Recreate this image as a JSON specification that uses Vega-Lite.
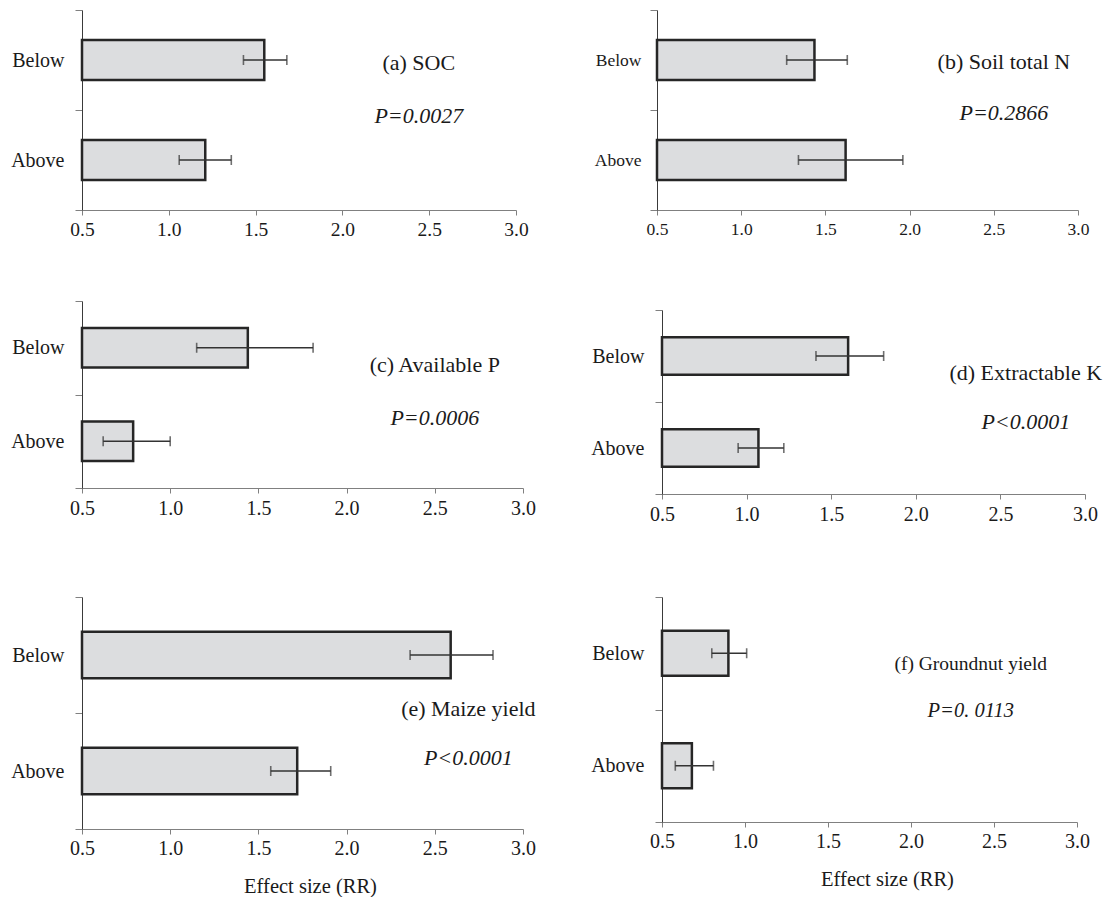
{
  "$schema": "https://vega.github.io/schema/vega-lite/v6.json",
  "padding": {"left": 5, "top": 0, "right": 0, "bottom": 0},
  "background": "white",
  "datasets": {
    "bars": [
      {"panel": "a", "group": "Below", "rr": 1.55, "lo": 1.43, "hi": 1.68},
      {"panel": "a", "group": "Above", "rr": 1.21, "lo": 1.06, "hi": 1.36},
      {"panel": "b", "group": "Below", "rr": 1.435, "lo": 1.27, "hi": 1.63},
      {"panel": "b", "group": "Above", "rr": 1.62, "lo": 1.34, "hi": 1.96},
      {"panel": "c", "group": "Below", "rr": 1.44, "lo": 1.15, "hi": 1.81},
      {"panel": "c", "group": "Above", "rr": 0.79, "lo": 0.62, "hi": 1.0},
      {"panel": "d", "group": "Below", "rr": 1.6, "lo": 1.41, "hi": 1.81},
      {"panel": "d", "group": "Above", "rr": 1.07, "lo": 0.95, "hi": 1.22},
      {"panel": "e", "group": "Below", "rr": 2.59, "lo": 2.36, "hi": 2.83},
      {"panel": "e", "group": "Above", "rr": 1.72, "lo": 1.57, "hi": 1.91},
      {"panel": "f", "group": "Below", "rr": 0.9, "lo": 0.8, "hi": 1.01},
      {"panel": "f", "group": "Above", "rr": 0.68, "lo": 0.58, "hi": 0.81}
    ],
    "notes": [
      {"panel": "a", "label": "(a) SOC", "p": "P=0.0027"},
      {"panel": "b", "label": "(b) Soil total N", "p": "P=0.2866"},
      {"panel": "c", "label": "(c) Available P", "p": "P=0.0006"},
      {"panel": "d", "label": "(d) Extractable K", "p": "P<0.0001"},
      {"panel": "e", "label": "(e) Maize yield", "p": "P<0.0001"},
      {"panel": "f", "label": "(f) Groundnut yield", "p": "P=0. 0113"}
    ]
  },
  "columns": 2,
  "spacing": {"row": 91, "column": 139},
  "bounds": "flush",
  "concat": [
    {
      "width": 434, "height": 200,
      "data": {"name": "bars"},
      "transform": [{"filter": "datum.panel == 'a'"}],
      "encoding": {
        "y": {"field": "group", "type": "nominal", "title": null,
          "scale": {"domain": ["Below", "Above"], "paddingInner": 0, "paddingOuter": 0},
          "axis": {"tickBand": "extent", "tickSize": 7, "labelPadding": 11, "labelFontSize": 20, "labelFont": "Liberation Serif", "minExtent": 77, "maxExtent": 77}}
      },
      "layer": [
        {"mark": {"type": "bar", "height": {"band": 0.4}, "fill": "#dcdddf", "stroke": "#262626", "strokeWidth": 2.5},
          "encoding": {"x": {"field": "rr", "type": "quantitative", "title": null, "scale": {"domain": [0.5, 3], "zero": false, "nice": false},
            "axis": {"values": [0.5, 1, 1.5, 2, 2.5, 3], "format": ".1f", "labelFontSize": 19.5, "labelFont": "Liberation Serif", "labelPadding": 5}}, "x2": {"datum": 0.5}}},
        {"mark": {"type": "rule", "color": "#333", "strokeWidth": 1.6}, "encoding": {"x": {"field": "lo", "type": "quantitative", "title": null}, "x2": {"field": "hi"}}},
        {"mark": {"type": "tick", "color": "#333", "size": 10, "thickness": 1.6}, "encoding": {"x": {"field": "lo", "type": "quantitative", "title": null}}},
        {"mark": {"type": "tick", "color": "#333", "size": 10, "thickness": 1.6}, "encoding": {"x": {"field": "hi", "type": "quantitative", "title": null}}},
        {"data": {"name": "notes"}, "transform": [{"filter": "datum.panel == 'a'"}],
          "mark": {"type": "text", "font": "Liberation Serif", "fontSize": 22, "dy": 3, "color": "#1a1a1a"},
          "encoding": {"x": {"datum": 2.44, "type": "quantitative", "title": null}, "y": {"datum": "Below", "type": "nominal", "title": null}, "text": {"field": "label"}}},
        {"data": {"name": "notes"}, "transform": [{"filter": "datum.panel == 'a'"}],
          "mark": {"type": "text", "font": "Liberation Serif", "fontSize": 22, "fontStyle": "italic", "dy": 56, "color": "#1a1a1a"},
          "encoding": {"x": {"datum": 2.44, "type": "quantitative", "title": null}, "y": {"datum": "Below", "type": "nominal", "title": null}, "text": {"field": "p"}}}
      ]
    },
    {
      "width": 416, "height": 200,
      "data": {"name": "bars"},
      "transform": [{"filter": "datum.panel == 'b'"}],
      "encoding": {
        "y": {"field": "group", "type": "nominal", "title": null,
          "scale": {"domain": ["Below", "Above"], "paddingInner": 0, "paddingOuter": 0},
          "axis": {"tickBand": "extent", "tickSize": 7, "labelPadding": 9, "labelFontSize": 17.5, "labelFont": "Liberation Serif", "offset": 5}}
      },
      "layer": [
        {"mark": {"type": "bar", "height": {"band": 0.4}, "fill": "#dcdddf", "stroke": "#262626", "strokeWidth": 2.5},
          "encoding": {"x": {"field": "rr", "type": "quantitative", "title": null, "scale": {"domain": [0.5, 3], "zero": false, "nice": false, "range": [-5, 416]},
            "axis": {"values": [0.5, 1, 1.5, 2, 2.5, 3], "format": ".1f", "labelFontSize": 17.5, "labelFont": "Liberation Serif", "labelPadding": 5}}, "x2": {"datum": 0.5}}},
        {"mark": {"type": "rule", "color": "#333", "strokeWidth": 1.6}, "encoding": {"x": {"field": "lo", "type": "quantitative", "title": null}, "x2": {"field": "hi"}}},
        {"mark": {"type": "tick", "color": "#333", "size": 10, "thickness": 1.6}, "encoding": {"x": {"field": "lo", "type": "quantitative", "title": null}}},
        {"mark": {"type": "tick", "color": "#333", "size": 10, "thickness": 1.6}, "encoding": {"x": {"field": "hi", "type": "quantitative", "title": null}}},
        {"data": {"name": "notes"}, "transform": [{"filter": "datum.panel == 'b'"}],
          "mark": {"type": "text", "font": "Liberation Serif", "fontSize": 22, "dy": 2, "color": "#1a1a1a"},
          "encoding": {"x": {"datum": 2.56, "type": "quantitative", "title": null}, "y": {"datum": "Below", "type": "nominal", "title": null}, "text": {"field": "label"}}},
        {"data": {"name": "notes"}, "transform": [{"filter": "datum.panel == 'b'"}],
          "mark": {"type": "text", "font": "Liberation Serif", "fontSize": 22, "fontStyle": "italic", "dy": 53, "color": "#1a1a1a"},
          "encoding": {"x": {"datum": 2.56, "type": "quantitative", "title": null}, "y": {"datum": "Below", "type": "nominal", "title": null}, "text": {"field": "p"}}}
      ]
    },
    {
      "width": 441, "height": 187,
      "data": {"name": "bars"},
      "transform": [{"filter": "datum.panel == 'c'"}],
      "encoding": {
        "y": {"field": "group", "type": "nominal", "title": null,
          "scale": {"domain": ["Below", "Above"], "paddingInner": 0, "paddingOuter": 0},
          "axis": {"tickBand": "extent", "tickSize": 7, "labelPadding": 11, "labelFontSize": 20, "labelFont": "Liberation Serif", "minExtent": 77, "maxExtent": 77}}
      },
      "layer": [
        {"mark": {"type": "bar", "height": {"band": 0.42}, "fill": "#dcdddf", "stroke": "#262626", "strokeWidth": 2.5},
          "encoding": {"x": {"field": "rr", "type": "quantitative", "title": null, "scale": {"domain": [0.5, 3], "zero": false, "nice": false},
            "axis": {"values": [0.5, 1, 1.5, 2, 2.5, 3], "format": ".1f", "labelFontSize": 20, "labelFont": "Liberation Serif", "labelPadding": 5}}, "x2": {"datum": 0.5}}},
        {"mark": {"type": "rule", "color": "#333", "strokeWidth": 1.6}, "encoding": {"x": {"field": "lo", "type": "quantitative", "title": null}, "x2": {"field": "hi"}}},
        {"mark": {"type": "tick", "color": "#333", "size": 10, "thickness": 1.6}, "encoding": {"x": {"field": "lo", "type": "quantitative", "title": null}}},
        {"mark": {"type": "tick", "color": "#333", "size": 10, "thickness": 1.6}, "encoding": {"x": {"field": "hi", "type": "quantitative", "title": null}}},
        {"data": {"name": "notes"}, "transform": [{"filter": "datum.panel == 'c'"}],
          "mark": {"type": "text", "font": "Liberation Serif", "fontSize": 22, "dy": 17, "color": "#1a1a1a"},
          "encoding": {"x": {"datum": 2.5, "type": "quantitative", "title": null}, "y": {"datum": "Below", "type": "nominal", "title": null}, "text": {"field": "label"}}},
        {"data": {"name": "notes"}, "transform": [{"filter": "datum.panel == 'c'"}],
          "mark": {"type": "text", "font": "Liberation Serif", "fontSize": 22, "fontStyle": "italic", "dy": 70, "color": "#1a1a1a"},
          "encoding": {"x": {"datum": 2.5, "type": "quantitative", "title": null}, "y": {"datum": "Below", "type": "nominal", "title": null}, "text": {"field": "p"}}}
      ]
    },
    {
      "width": 423, "height": 193,
      "data": {"name": "bars"},
      "transform": [{"filter": "datum.panel == 'd'"}],
      "encoding": {
        "y": {"field": "group", "type": "nominal", "title": null,
          "scale": {"domain": ["Below", "Above"], "paddingInner": 0, "paddingOuter": 0, "range": [9, 193]},
          "axis": {"tickBand": "extent", "tickSize": 7, "labelPadding": 11, "labelFontSize": 20, "labelFont": "Liberation Serif"}}
      },
      "layer": [
        {"mark": {"type": "bar", "height": {"band": 0.41}, "fill": "#dcdddf", "stroke": "#262626", "strokeWidth": 2.5},
          "encoding": {"x": {"field": "rr", "type": "quantitative", "title": null, "scale": {"domain": [0.5, 3], "zero": false, "nice": false},
            "axis": {"values": [0.5, 1, 1.5, 2, 2.5, 3], "format": ".1f", "labelFontSize": 20, "labelFont": "Liberation Serif", "labelPadding": 5}}, "x2": {"datum": 0.5}}},
        {"mark": {"type": "rule", "color": "#333", "strokeWidth": 1.6}, "encoding": {"x": {"field": "lo", "type": "quantitative", "title": null}, "x2": {"field": "hi"}}},
        {"mark": {"type": "tick", "color": "#333", "size": 10, "thickness": 1.6}, "encoding": {"x": {"field": "lo", "type": "quantitative", "title": null}}},
        {"mark": {"type": "tick", "color": "#333", "size": 10, "thickness": 1.6}, "encoding": {"x": {"field": "hi", "type": "quantitative", "title": null}}},
        {"data": {"name": "notes"}, "transform": [{"filter": "datum.panel == 'd'"}],
          "mark": {"type": "text", "font": "Liberation Serif", "fontSize": 22, "dy": 17, "color": "#1a1a1a"},
          "encoding": {"x": {"datum": 2.65, "type": "quantitative", "title": null}, "y": {"datum": "Below", "type": "nominal", "title": null}, "text": {"field": "label"}}},
        {"data": {"name": "notes"}, "transform": [{"filter": "datum.panel == 'd'"}],
          "mark": {"type": "text", "font": "Liberation Serif", "fontSize": 22, "fontStyle": "italic", "dy": 66, "color": "#1a1a1a"},
          "encoding": {"x": {"datum": 2.65, "type": "quantitative", "title": null}, "y": {"datum": "Below", "type": "nominal", "title": null}, "text": {"field": "p"}}}
      ]
    },
    {
      "width": 441, "height": 244,
      "data": {"name": "bars"},
      "transform": [{"filter": "datum.panel == 'e'"}],
      "encoding": {
        "y": {"field": "group", "type": "nominal", "title": null,
          "scale": {"domain": ["Below", "Above"], "paddingInner": 0, "paddingOuter": 0, "range": [12, 244]},
          "axis": {"tickBand": "extent", "tickSize": 7, "labelPadding": 11, "labelFontSize": 20, "labelFont": "Liberation Serif", "minExtent": 77, "maxExtent": 77}}
      },
      "layer": [
        {"mark": {"type": "bar", "height": {"band": 0.4}, "fill": "#dcdddf", "stroke": "#262626", "strokeWidth": 2.5},
          "encoding": {"x": {"field": "rr", "type": "quantitative", "title": "Effect size (RR)", "scale": {"domain": [0.5, 3], "zero": false, "nice": false},
            "axis": {"values": [0.5, 1, 1.5, 2, 2.5, 3], "format": ".1f", "labelFontSize": 20, "labelFont": "Liberation Serif", "labelPadding": 4, "titleFont": "Liberation Serif", "titleFontSize": 20.5, "titlePadding": 18, "titleX": 228}}, "x2": {"datum": 0.5}}},
        {"mark": {"type": "rule", "color": "#333", "strokeWidth": 1.6}, "encoding": {"x": {"field": "lo", "type": "quantitative", "title": "Effect size (RR)"}, "x2": {"field": "hi"}}},
        {"mark": {"type": "tick", "color": "#333", "size": 10, "thickness": 1.6}, "encoding": {"x": {"field": "lo", "type": "quantitative", "title": "Effect size (RR)"}}},
        {"mark": {"type": "tick", "color": "#333", "size": 10, "thickness": 1.6}, "encoding": {"x": {"field": "hi", "type": "quantitative", "title": "Effect size (RR)"}}},
        {"data": {"name": "notes"}, "transform": [{"filter": "datum.panel == 'e'"}],
          "mark": {"type": "text", "font": "Liberation Serif", "fontSize": 22, "dy": 54, "color": "#1a1a1a"},
          "encoding": {"x": {"datum": 2.69, "type": "quantitative", "title": "Effect size (RR)"}, "y": {"datum": "Below", "type": "nominal", "title": null}, "text": {"field": "label"}}},
        {"data": {"name": "notes"}, "transform": [{"filter": "datum.panel == 'e'"}],
          "mark": {"type": "text", "font": "Liberation Serif", "fontSize": 22, "fontStyle": "italic", "dy": 103, "color": "#1a1a1a"},
          "encoding": {"x": {"datum": 2.69, "type": "quantitative", "title": "Effect size (RR)"}, "y": {"datum": "Below", "type": "nominal", "title": null}, "text": {"field": "p"}}}
      ]
    },
    {
      "width": 415, "height": 237,
      "data": {"name": "bars"},
      "transform": [{"filter": "datum.panel == 'f'"}],
      "encoding": {
        "y": {"field": "group", "type": "nominal", "title": null,
          "scale": {"domain": ["Below", "Above"], "paddingInner": 0, "paddingOuter": 0, "range": [12, 237]},
          "axis": {"tickBand": "extent", "tickSize": 7, "labelPadding": 11, "labelFontSize": 20, "labelFont": "Liberation Serif"}}
      },
      "layer": [
        {"mark": {"type": "bar", "height": {"band": 0.4}, "fill": "#dcdddf", "stroke": "#262626", "strokeWidth": 2.5},
          "encoding": {"x": {"field": "rr", "type": "quantitative", "title": "Effect size (RR)", "scale": {"domain": [0.5, 3], "zero": false, "nice": false},
            "axis": {"values": [0.5, 1, 1.5, 2, 2.5, 3], "format": ".1f", "labelFontSize": 20, "labelFont": "Liberation Serif", "labelPadding": 4, "titleFont": "Liberation Serif", "titleFontSize": 20.5, "titlePadding": 18, "titleX": 225}}, "x2": {"datum": 0.5}}},
        {"mark": {"type": "rule", "color": "#333", "strokeWidth": 1.6}, "encoding": {"x": {"field": "lo", "type": "quantitative", "title": "Effect size (RR)"}, "x2": {"field": "hi"}}},
        {"mark": {"type": "tick", "color": "#333", "size": 10, "thickness": 1.6}, "encoding": {"x": {"field": "lo", "type": "quantitative", "title": "Effect size (RR)"}}},
        {"mark": {"type": "tick", "color": "#333", "size": 10, "thickness": 1.6}, "encoding": {"x": {"field": "hi", "type": "quantitative", "title": "Effect size (RR)"}}},
        {"data": {"name": "notes"}, "transform": [{"filter": "datum.panel == 'f'"}],
          "mark": {"type": "text", "font": "Liberation Serif", "fontSize": 19.5, "dy": 11, "color": "#1a1a1a"},
          "encoding": {"x": {"datum": 2.36, "type": "quantitative", "title": "Effect size (RR)"}, "y": {"datum": "Below", "type": "nominal", "title": null}, "text": {"field": "label"}}},
        {"data": {"name": "notes"}, "transform": [{"filter": "datum.panel == 'f'"}],
          "mark": {"type": "text", "font": "Liberation Serif", "fontSize": 20.5, "fontStyle": "italic", "dy": 58, "color": "#1a1a1a"},
          "encoding": {"x": {"datum": 2.36, "type": "quantitative", "title": "Effect size (RR)"}, "y": {"datum": "Below", "type": "nominal", "title": null}, "text": {"field": "p"}}}
      ]
    }
  ],
  "config": {
    "view": {"stroke": null},
    "font": "Liberation Serif",
    "text": {"font": "Liberation Serif"},
    "axis": {"labelFont": "Liberation Serif", "titleFont": "Liberation Serif", "labelColor": "#1a1a1a", "titleColor": "#1a1a1a", "titleFontWeight": "normal", "grid": false, "labelOverlap": false},
    "axisX": {"labelFont": "Liberation Serif", "titleFont": "Liberation Serif", "domainColor": "#808080", "tickColor": "#808080", "tickSize": 5, "labelPadding": 4, "labelFlush": false},
    "axisY": {"labelFont": "Liberation Serif", "domainColor": "#3a3a3a", "tickColor": "#808080", "labelAngle": 0}
  }
}
